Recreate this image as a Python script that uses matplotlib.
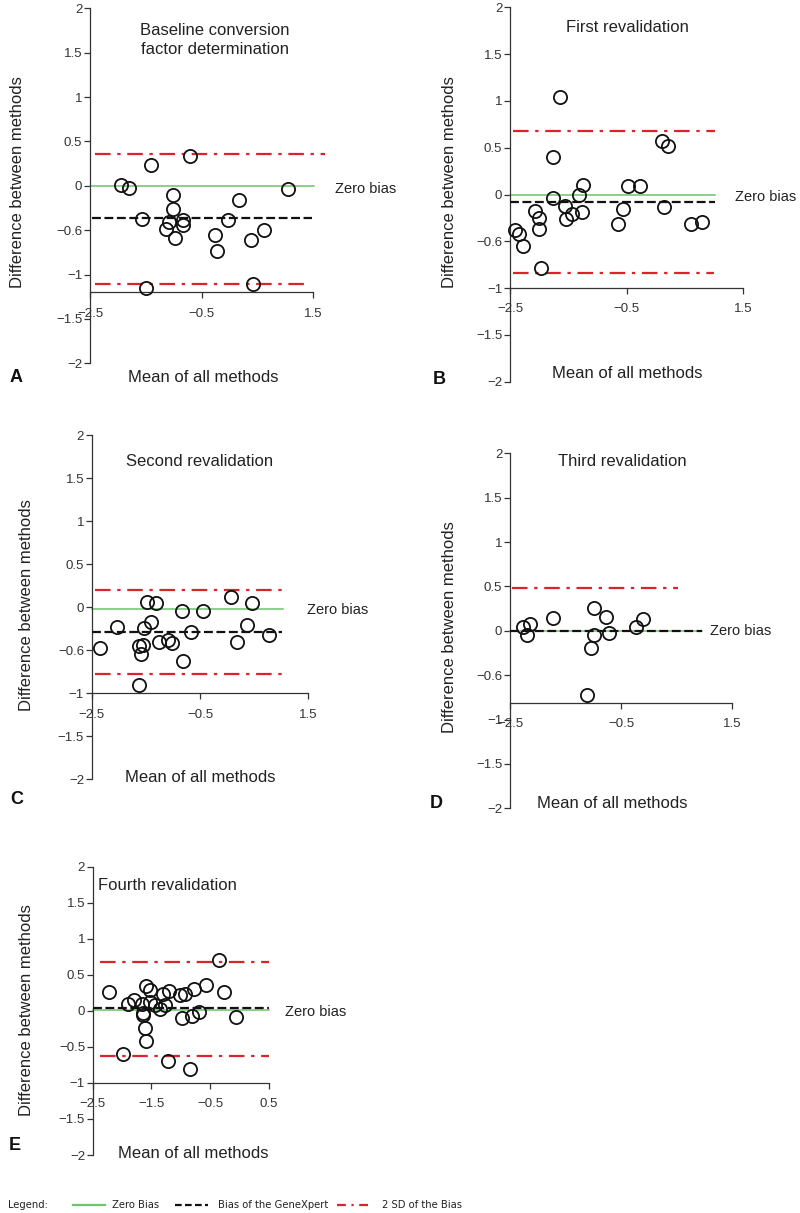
import matplotlib
matplotlib.use("Agg")
import matplotlib.pyplot as plt
from matplotlib.lines import Line2D

plt.rcParams['font.family'] = ['Liberation Sans', 'DejaVu Sans']

W, H = 800, 1213

# ===============================
# DATA
# ===============================
a_x = [-1.95, -1.80, -1.40, -1.56, -1.49, -0.71, -1.02, -1.02, -1.08, -1.14, -0.98,
       -0.84, -0.83, -0.26, -0.23, -0.02, 0.17, 0.38, 0.43, 0.63, 1.05]
a_y = [0.01, -0.03, 0.24, -0.37, -1.15, 0.34, -0.10, -0.26, -0.41, -0.49, -0.59,
       -0.38, -0.44, -0.55, -0.73, -0.39, -0.16, -0.61, -1.11, -0.50, -0.04]

b_x = [-2.41, -2.34, -2.28, -2.07, -2.00, -2.01, -1.97, -1.77, -1.77, -1.64, -1.56,
       -1.54, -1.43, -1.32, -1.24, -1.26, -0.64, -0.57, -0.47, -0.27, 0.11, 0.21,
       0.14, 0.61, 0.79]
b_y = [-0.38, -0.42, -0.55, -0.18, -0.25, -0.37, -0.78, 0.40, -0.04, 1.04, -0.12,
       -0.26, -0.21, 0.00, 0.10, -0.19, -0.32, -0.16, 0.09, 0.09, 0.57, 0.52,
       -0.13, -0.32, -0.29]

c_x = [-2.35, -2.04, -1.62, -1.56, -1.59, -1.62, -1.53, -1.47, -1.41, -1.32, -1.25,
       -1.10, -1.01, -0.84, -0.82, -0.67, -0.44, 0.07, 0.19, 0.37, 0.46, 0.78]
c_y = [-0.47, -0.23, -0.45, -0.44, -0.54, -0.90, -0.24, 0.06, -0.17, 0.05, -0.40,
       -0.38, -0.42, -0.05, -0.63, -0.29, -0.05, 0.12, -0.41, -0.21, 0.05, -0.32]

d_x = [-2.26, -2.14, -2.20, -1.72, -0.99, -0.78, -0.98, -1.05, -0.71, -1.12, -0.24, -0.11]
d_y = [0.04, 0.08, -0.05, 0.14, 0.26, 0.16, -0.05, -0.19, -0.03, -0.72, 0.04, 0.13]

e_x = [-2.23, -1.98, -1.89, -1.79, -1.66, -1.65, -1.64, -1.61, -1.60, -1.60, -1.52,
       -1.53, -1.44, -1.36, -1.31, -1.27, -1.20, -1.21, -1.02, -0.93, -0.97, -0.85,
       -0.81, -0.77, -0.69, -0.57, -0.35, -0.26, -0.06]
e_y = [0.26, -0.60, 0.09, 0.15, 0.09, -0.03, -0.06, -0.24, -0.42, 0.34, 0.29,
       0.12, 0.08, 0.02, 0.23, 0.08, 0.27, -0.69, 0.22, 0.23, -0.10, -0.81,
       -0.07, 0.30, -0.01, 0.36, 0.71, 0.26, -0.09]

zero_levels = [0.0, 0.0, -0.02, 0.0, 0.01]
bias_levels = [-0.365, -0.08, -0.29, 0.0, 0.04]
sd_hi_levels = [0.36, 0.68, 0.20, 0.48, 0.68]
sd_lo_levels = [-1.105, -0.84, -0.775, None, -0.62]

titles = ["Baseline conversion\nfactor determination", "First revalidation",
          "Second revalidation", "Third revalidation", "Fourth revalidation"]
letters = ["A", "B", "C", "D", "E"]
legend_labels = ["Zero Bias", "Bias of the GeneXpert", "2 SD of the Bias"]

yticks = [2, 1.5, 1, 0.5, 0, -0.5, -1, -1.5, -2]
ylabels_ad = ["2", "1.5", "1", "0.5", "0", "\u22120.6", "\u22121", "\u22121.5", "\u22122"]
ylabels_e = ["2", "1.5", "1", "0.5", "0", "\u22120.5", "\u22121", "\u22121.5", "\u22122"]
xticks_ad = [-2.5, -0.5, 1.5]
xticks_e = [-2.5, -1.5, -0.5, 0.5]
xlabels_ad = ["\u22122.5", "\u22120.5", "1.5"]
xlabels_e = ["\u22122.5", "\u22121.5", "\u22120.5", "0.5"]

RED = "#d9242b"
GREEN = "#6cc46c"
TXT = "#222222"
RED_DASH = (7, 3, 1.5, 3)
BLK_DASH = (4, 1.6)


def fx(px):
    return px / W


def fy(py):
    return 1 - py / H


# pixel layout of each panel: left, top, right, bottom, x-axis level, line extents
panels = [
    dict(x=a_x, y=a_y, box=(90, 8.3, 313, 363.3), xmax=1.5, xaxis=-1.2,
         xt=xticks_ad, xl=xlabels_ad, yl=ylabels_ad,
         g=(-2.5, 1.52), k=(-2.47, 1.48), rh=(-2.41, 1.72), rl=(-2.41, 1.38),
         title=(215, 40, "center"), zb=(335, 189), ylab=(18, 182),
         xlab=(203, 377), let=(10, 378)),
    dict(x=b_x, y=b_y, box=(510, 7.3, 743.3, 381.7), xmax=1.5, xaxis=-1.0,
         xt=xticks_ad, xl=xlabels_ad, yl=ylabels_ad,
         g=(-2.5, 1.01), k=(-2.5, 1.01), rh=(-2.44, 1.01), rl=(-2.44, 0.99),
         title=(627, 27, "center"), zb=(735, 197), ylab=(450, 182),
         xlab=(627, 373), let=(433, 380)),
    dict(x=c_x, y=c_y, box=(91.7, 435, 308.3, 779.3), xmax=1.5, xaxis=-1.0,
         xt=xticks_ad, xl=xlabels_ad, yl=ylabels_ad,
         g=(-2.5, 1.03), k=(-2.5, 1.01), rh=(-2.44, 1.03), rl=(-2.44, 1.03),
         title=(200, 462, "center"), zb=(307, 610), ylab=(27, 605),
         xlab=(200, 778), let=(10, 800)),
    dict(x=d_x, y=d_y, box=(510, 453.3, 732.3, 808.3), xmax=1.5, xaxis=-0.81,
         xt=xticks_ad, xl=xlabels_ad, yl=ylabels_ad,
         g=(-2.5, 0.95), k=(-2.5, 0.95), rh=(-2.47, 0.53), rl=None,
         title=(622, 462, "center"), zb=(710, 631), ylab=(450, 627),
         xlab=(612, 803), let=(430, 803)),
    dict(x=e_x, y=e_y, box=(92.7, 866.7, 268.7, 1155), xmax=0.5, xaxis=-1.0,
         xt=xticks_e, xl=xlabels_e, yl=ylabels_e,
         g=(-2.5, 0.51), k=(-2.5, 0.51), rh=(-2.38, 0.51), rl=(-2.38, 0.51),
         title=(98, 886, "left"), zb=(285, 1012), ylab=(27, 1010),
         xlab=(193, 1153), let=(9, 1146)),
]

fig = plt.figure(figsize=(W / 100, H / 100), dpi=100)

for i, p in enumerate(panels):
    l, t, r, b = p["box"]
    ax = fig.add_axes([fx(l), fy(b), (r - l) / W, (b - t) / H])
    ax.set_xlim(-2.5, p["xmax"])
    ax.set_ylim(-2, 2)
    ax.patch.set_alpha(0)

    for s in ["top", "right"]:
        ax.spines[s].set_visible(False)
    ax.spines["left"].set_bounds(-2, 2)
    ax.spines["bottom"].set_position(("data", p["xaxis"]))
    ax.spines["bottom"].set_bounds(-2.5, p["xmax"])
    for s in ["left", "bottom"]:
        ax.spines[s].set_color("#333333")
        ax.spines[s].set_linewidth(0.9)

    ax.set_yticks(yticks)
    ax.set_yticklabels(p["yl"])
    ax.set_xticks(p["xt"])
    ax.set_xticklabels(p["xl"])
    ax.tick_params(axis="y", length=4, width=0.9, pad=1.5, labelsize=9.5,
                   colors="#333333")
    ax.tick_params(axis="x", length=4, width=0.9, pad=7, labelsize=9.5,
                   colors="#333333")

    # reference lines
    ax.plot(p["g"], [zero_levels[i]] * 2, color=GREEN, lw=1.1, clip_on=False,
            zorder=2)
    ax.plot(p["k"], [bias_levels[i]] * 2, color="#111111", lw=1.6,
            dashes=BLK_DASH, clip_on=False, zorder=3)
    ax.plot(p["rh"], [sd_hi_levels[i]] * 2, color=RED, lw=1.6,
            dashes=RED_DASH, clip_on=False, zorder=3)
    if sd_lo_levels[i] is not None:
        ax.plot(p["rl"], [sd_lo_levels[i]] * 2, color=RED, lw=1.6,
                dashes=RED_DASH, clip_on=False, zorder=3)

    ax.plot(p["x"], p["y"], linestyle="none", marker="o", ms=9.5, mfc="none",
            mec="#111111", mew=1.3, clip_on=False, zorder=4)

    tx, ty, ha = p["title"]
    fig.text(fx(tx), fy(ty), titles[i], ha=ha, va="center", fontsize=12,
             color=TXT, linespacing=1.35)
    fig.text(fx(p["zb"][0]), fy(p["zb"][1]), "Zero bias", ha="left",
             va="center", fontsize=10.5, color=TXT)
    fig.text(fx(p["ylab"][0]), fy(p["ylab"][1]), "Difference between methods",
             rotation=90, ha="center", va="center", fontsize=12, color=TXT)
    fig.text(fx(p["xlab"][0]), fy(p["xlab"][1]), "Mean of all methods",
             ha="center", va="center", fontsize=12, color=TXT)
    fig.text(fx(p["let"][0]), fy(p["let"][1]), letters[i], ha="left",
             va="center", fontsize=13, fontweight="bold", color="#111111")

# ===============================
# LEGEND
# ===============================
ly = 1205
leg_kw = dict(ha="left", va="center", fontsize=8, family="DejaVu Sans",
              fontstretch="condensed", color=TXT)
fig.text(fx(8), fy(ly), "Legend:", **leg_kw)
styles = [dict(color=GREEN, lw=1.6),
          dict(color="#111111", lw=1.6, dashes=(3, 1.5)),
          dict(color=RED, lw=1.6, dashes=(4, 2.5, 1, 2.5))]
line_px = [(73, 105), (175, 208), (337, 368)]
text_px = [112, 218, 382]
for lab, st, (x0, x1), tx in zip(legend_labels, styles, line_px, text_px):
    fig.add_artist(Line2D([fx(x0), fx(x1)], [fy(ly)] * 2, **st))
    fig.text(fx(tx), fy(ly), lab, **leg_kw)

fig.savefig("out.png", dpi=100)
plt.close(fig)
